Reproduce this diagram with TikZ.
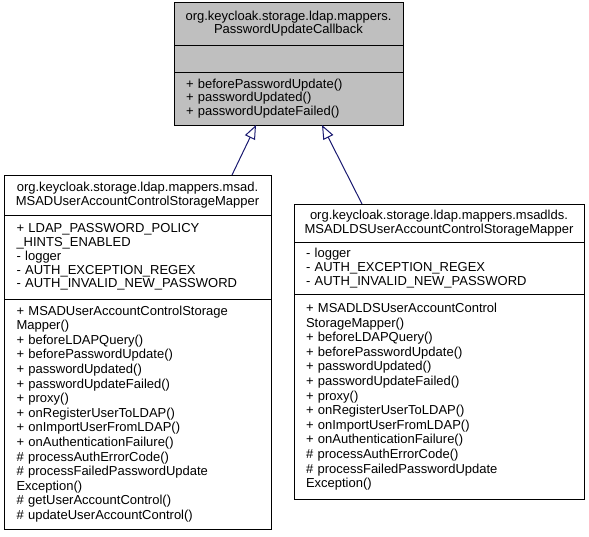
\documentclass[tikz,border=0pt]{standalone}
\usepackage{fontspec}
\setmainfont{Liberation Sans}
\usepackage{xcolor}
\usetikzlibrary{arrows.meta,positioning}
\definecolor{edgeblue}{RGB}{25,25,112}
\definecolor{boxgray}{RGB}{191,191,191}
\begin{document}
\begin{tikzpicture}[x=1pt, y=-1pt,
		classpart/.style={draw=black, line width=1pt, outer sep=0pt, inner ysep=0pt, font=\fontsize{13}{13.6}\selectfont},
		titlepart/.style={classpart, align=center, inner xsep=0pt},
		attrpart/.style={classpart, align=left, font=\fontsize{13}{13.8}\selectfont},
		memberpart/.style={classpart, align=left, font=\fontsize{13}{14.6}\selectfont},
		inherit/.style={draw=edgeblue, line width=1pt, -{Triangle[open, length=14pt, width=11pt]}}]
				\useasboundingbox (0, 0) rectangle (589, 536);
				% base class
				\node[titlepart, fill=boxgray, text width=229pt, minimum height=43pt, anchor=north] (ttitle) at (288.5, 2) {org.keycloak.storage.ldap.mappers.\\PasswordUpdateCallback};
				\node[attrpart, fill=boxgray, text width=205pt, inner xsep=12pt, minimum height=27pt, below=0pt of ttitle] (tattr) {};
				\node[attrpart, fill=boxgray, text width=205pt, inner xsep=12pt, minimum height=53pt, below=0pt of tattr] (tmeth) {+ beforePasswordUpdate()\\+ passwordUpdated()\\+ passwordUpdateFailed()};
				% msad mapper
				\node[titlepart, text width=267pt, minimum height=40pt, anchor=north] (ltitle) at (137.5, 175) {org.keycloak.storage.ldap.mappers.msad.\\MSADUserAccountControlStorageMapper};
				\node[attrpart, text width=242pt, inner xsep=12.5pt, minimum height=84pt, below=0pt of ltitle] (lattr) {+ LDAP\_PASSWORD\_POLICY\\\_HINTS\_ENABLED\\- logger\\- AUTH\_EXCEPTION\_REGEX\\- AUTH\_INVALID\_NEW\_PASSWORD};
				\node[memberpart, text width=242pt, inner xsep=12.5pt, minimum height=230pt, below=0pt of lattr] (lmeth) {+ MSADUserAccountControlStorage\\Mapper()\\+ beforeLDAPQuery()\\+ beforePasswordUpdate()\\+ passwordUpdated()\\+ passwordUpdateFailed()\\+ proxy()\\+ onRegisterUserToLDAP()\\+ onImportUserFromLDAP()\\+ onAuthenticationFailure()\\\# processAuthErrorCode()\\\# processFailedPasswordUpdate\\Exception()\\\# getUserAccountControl()\\\# updateUserAccountControl()};
				% msadlds mapper
				\node[titlepart, text width=290pt, minimum height=38pt, anchor=north] (rtitle) at (439, 204) {org.keycloak.storage.ldap.mappers.msadlds.\\MSADLDSUserAccountControlStorageMapper};
				\node[attrpart, text width=266pt, inner xsep=12pt, minimum height=52pt, below=0pt of rtitle] (rattr) {- logger\\- AUTH\_EXCEPTION\_REGEX\\- AUTH\_INVALID\_NEW\_PASSWORD};
				\node[memberpart, text width=266pt, inner xsep=12pt, minimum height=205.5pt, below=0pt of rattr] (rmeth) {+ MSADLDSUserAccountControl\\StorageMapper()\\+ beforeLDAPQuery()\\+ beforePasswordUpdate()\\+ passwordUpdated()\\+ passwordUpdateFailed()\\+ proxy()\\+ onRegisterUserToLDAP()\\+ onImportUserFromLDAP()\\+ onAuthenticationFailure()\\\# processAuthErrorCode()\\\# processFailedPasswordUpdate\\Exception()};
				% inheritance
				\draw[inherit] ([xshift=94.5pt]ltitle.north) -- ([xshift=-32.5pt]tmeth.south);
				\draw[inherit] ([xshift=-77pt]rtitle.north) -- ([xshift=33.5pt]tmeth.south);
			\end{tikzpicture}
\end{document}
